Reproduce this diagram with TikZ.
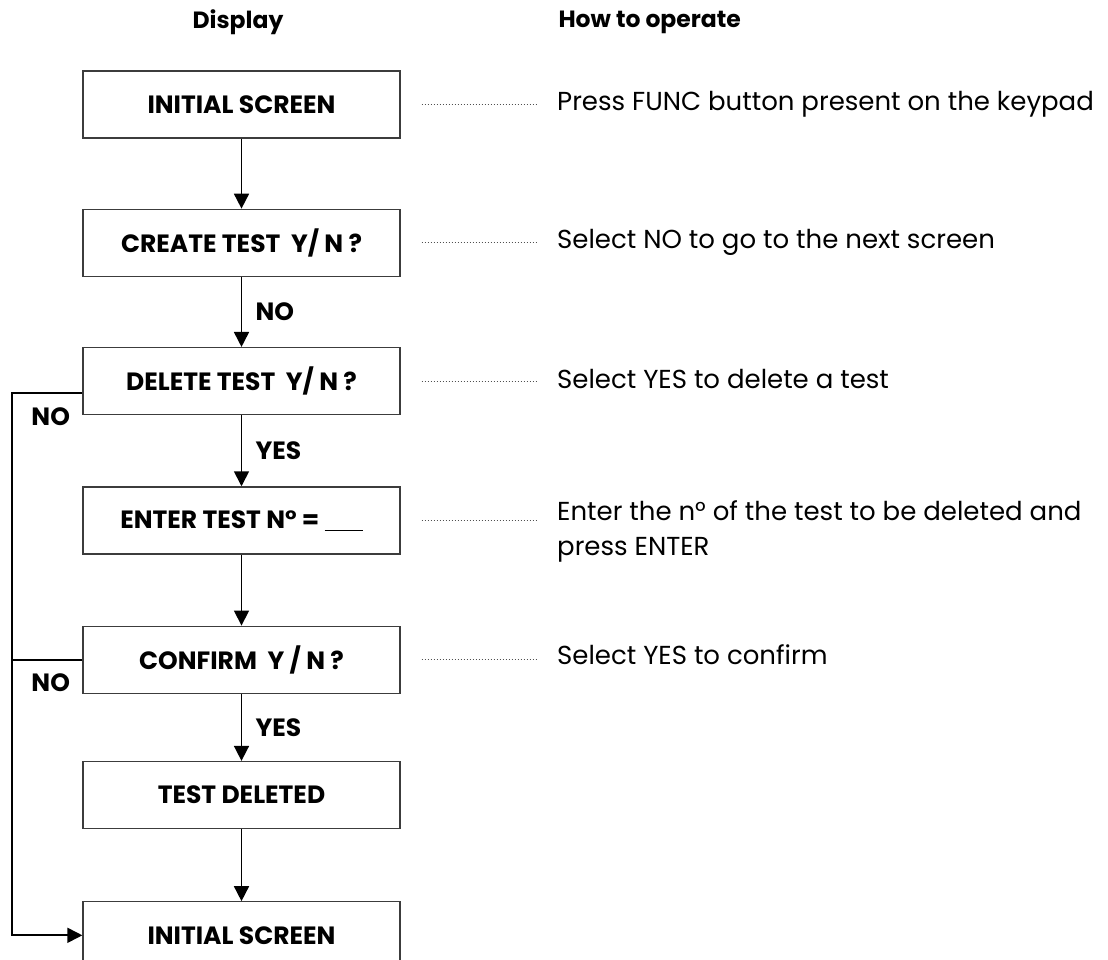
\documentclass[tikz,border=0pt]{standalone}
\usepackage{fontspec}
\setmainfont{Poppins}
\usepackage{tikz}
\usetikzlibrary{arrows.meta,positioning,calc}
\definecolor{boxgray}{RGB}{60,60,60}
\definecolor{dotgray}{RGB}{80,80,80}

\begin{document}
\begin{tikzpicture}[
  x=1pt, y=1pt,
  every node/.style={font=\fontsize{25}{30}\selectfont},
  screen/.style={rectangle, draw=boxgray, line width=1.3pt, minimum width=317pt,
    minimum height=67pt, inner sep=0pt, text centered, font=\fontsize{25}{30}\selectfont\bfseries},
  flow/.style={-{Triangle[width=15pt,length=15pt]}, line width=1.7pt},
  lbl/.style={font=\fontsize{25}{30}\selectfont\bfseries},
  head/.style={font=\fontsize{23.5}{28}\selectfont\bfseries},
  hint/.style={anchor=west, align=left, inner sep=0pt, font=\fontsize{26}{35}\selectfont},
  dots/.style={dotted, line width=1pt, dotgray}
]
  \useasboundingbox (0,0) rectangle (1108,-959);

  % column titles
  \node[head] (hdisp) at (238,-22) {Display};
  \node[head, anchor=west] (hoper) at (555,-22) {How to operate};

  % screens
  \node[screen] (b1) at (241.5,-104.5) {INITIAL SCREEN};
  \node[screen, below=70pt of b1] (b2) {CREATE TEST~~Y/ N ?};
  \node[screen, below=70pt of b2] (b3) {DELETE TEST~~Y/ N ?};
  \node[screen, below=71pt of b3] (b4) {ENTER TEST N° = \underline{\hspace{38pt}}};
  \node[screen, below=71pt of b4] (b5) {CONFIRM~~Y / N ?};
  \node[screen, below=67pt of b5] (b6) {TEST DELETED};
  \node[screen, below=72pt of b6] (b7) {INITIAL SCREEN};

  % how to operate
  \node[hint] (d1) at (557,-104.5) {Press FUNC button present on the keypad};
  \node[hint] (d2) at (557,-242) {Select NO to go to the next screen};
  \node[hint] (d3) at (557,-378.5) {Select YES to delete a test};
  \node[hint] (d4) at (557,-531) {Enter the n° of the test to be deleted and\\press ENTER};
  \node[hint] (d5) at (557,-654.5) {Select YES to confirm};

  \foreach \i in {1,2,3,4,5}{
    \draw[dots] ([xshift=21pt]b\i.east) -- ([xshift=-20pt]b\i.east -| d\i.west);
  }

  % main flow
  \draw[flow] (b1) -- (b2);
  \draw[flow] (b2) -- node[lbl, right=10pt] (lno) {NO} (b3);
  \draw[flow] (b3) -- node[lbl, right=10pt] (lyes1) {YES} (b4);
  \draw[flow] (b4) -- (b5);
  \draw[flow] (b5) -- node[lbl, right=10pt] (lyes2) {YES} (b6);
  \draw[flow] (b6) -- (b7);

  % back to initial screen
  \coordinate (loop) at (12,0);
  \draw[flow] ([yshift=-12pt]b3.west) -- node[lbl, pos=0.45, yshift=-24pt] (lno1) {NO}
    ([yshift=-12pt]b3.west -| loop) |- (b7.west);
  \draw[line width=1.7pt] (b5.west) -- node[lbl, pos=0.45, yshift=-23pt] (lno2) {NO} (b5.west -| loop);
\end{tikzpicture}
\end{document}
